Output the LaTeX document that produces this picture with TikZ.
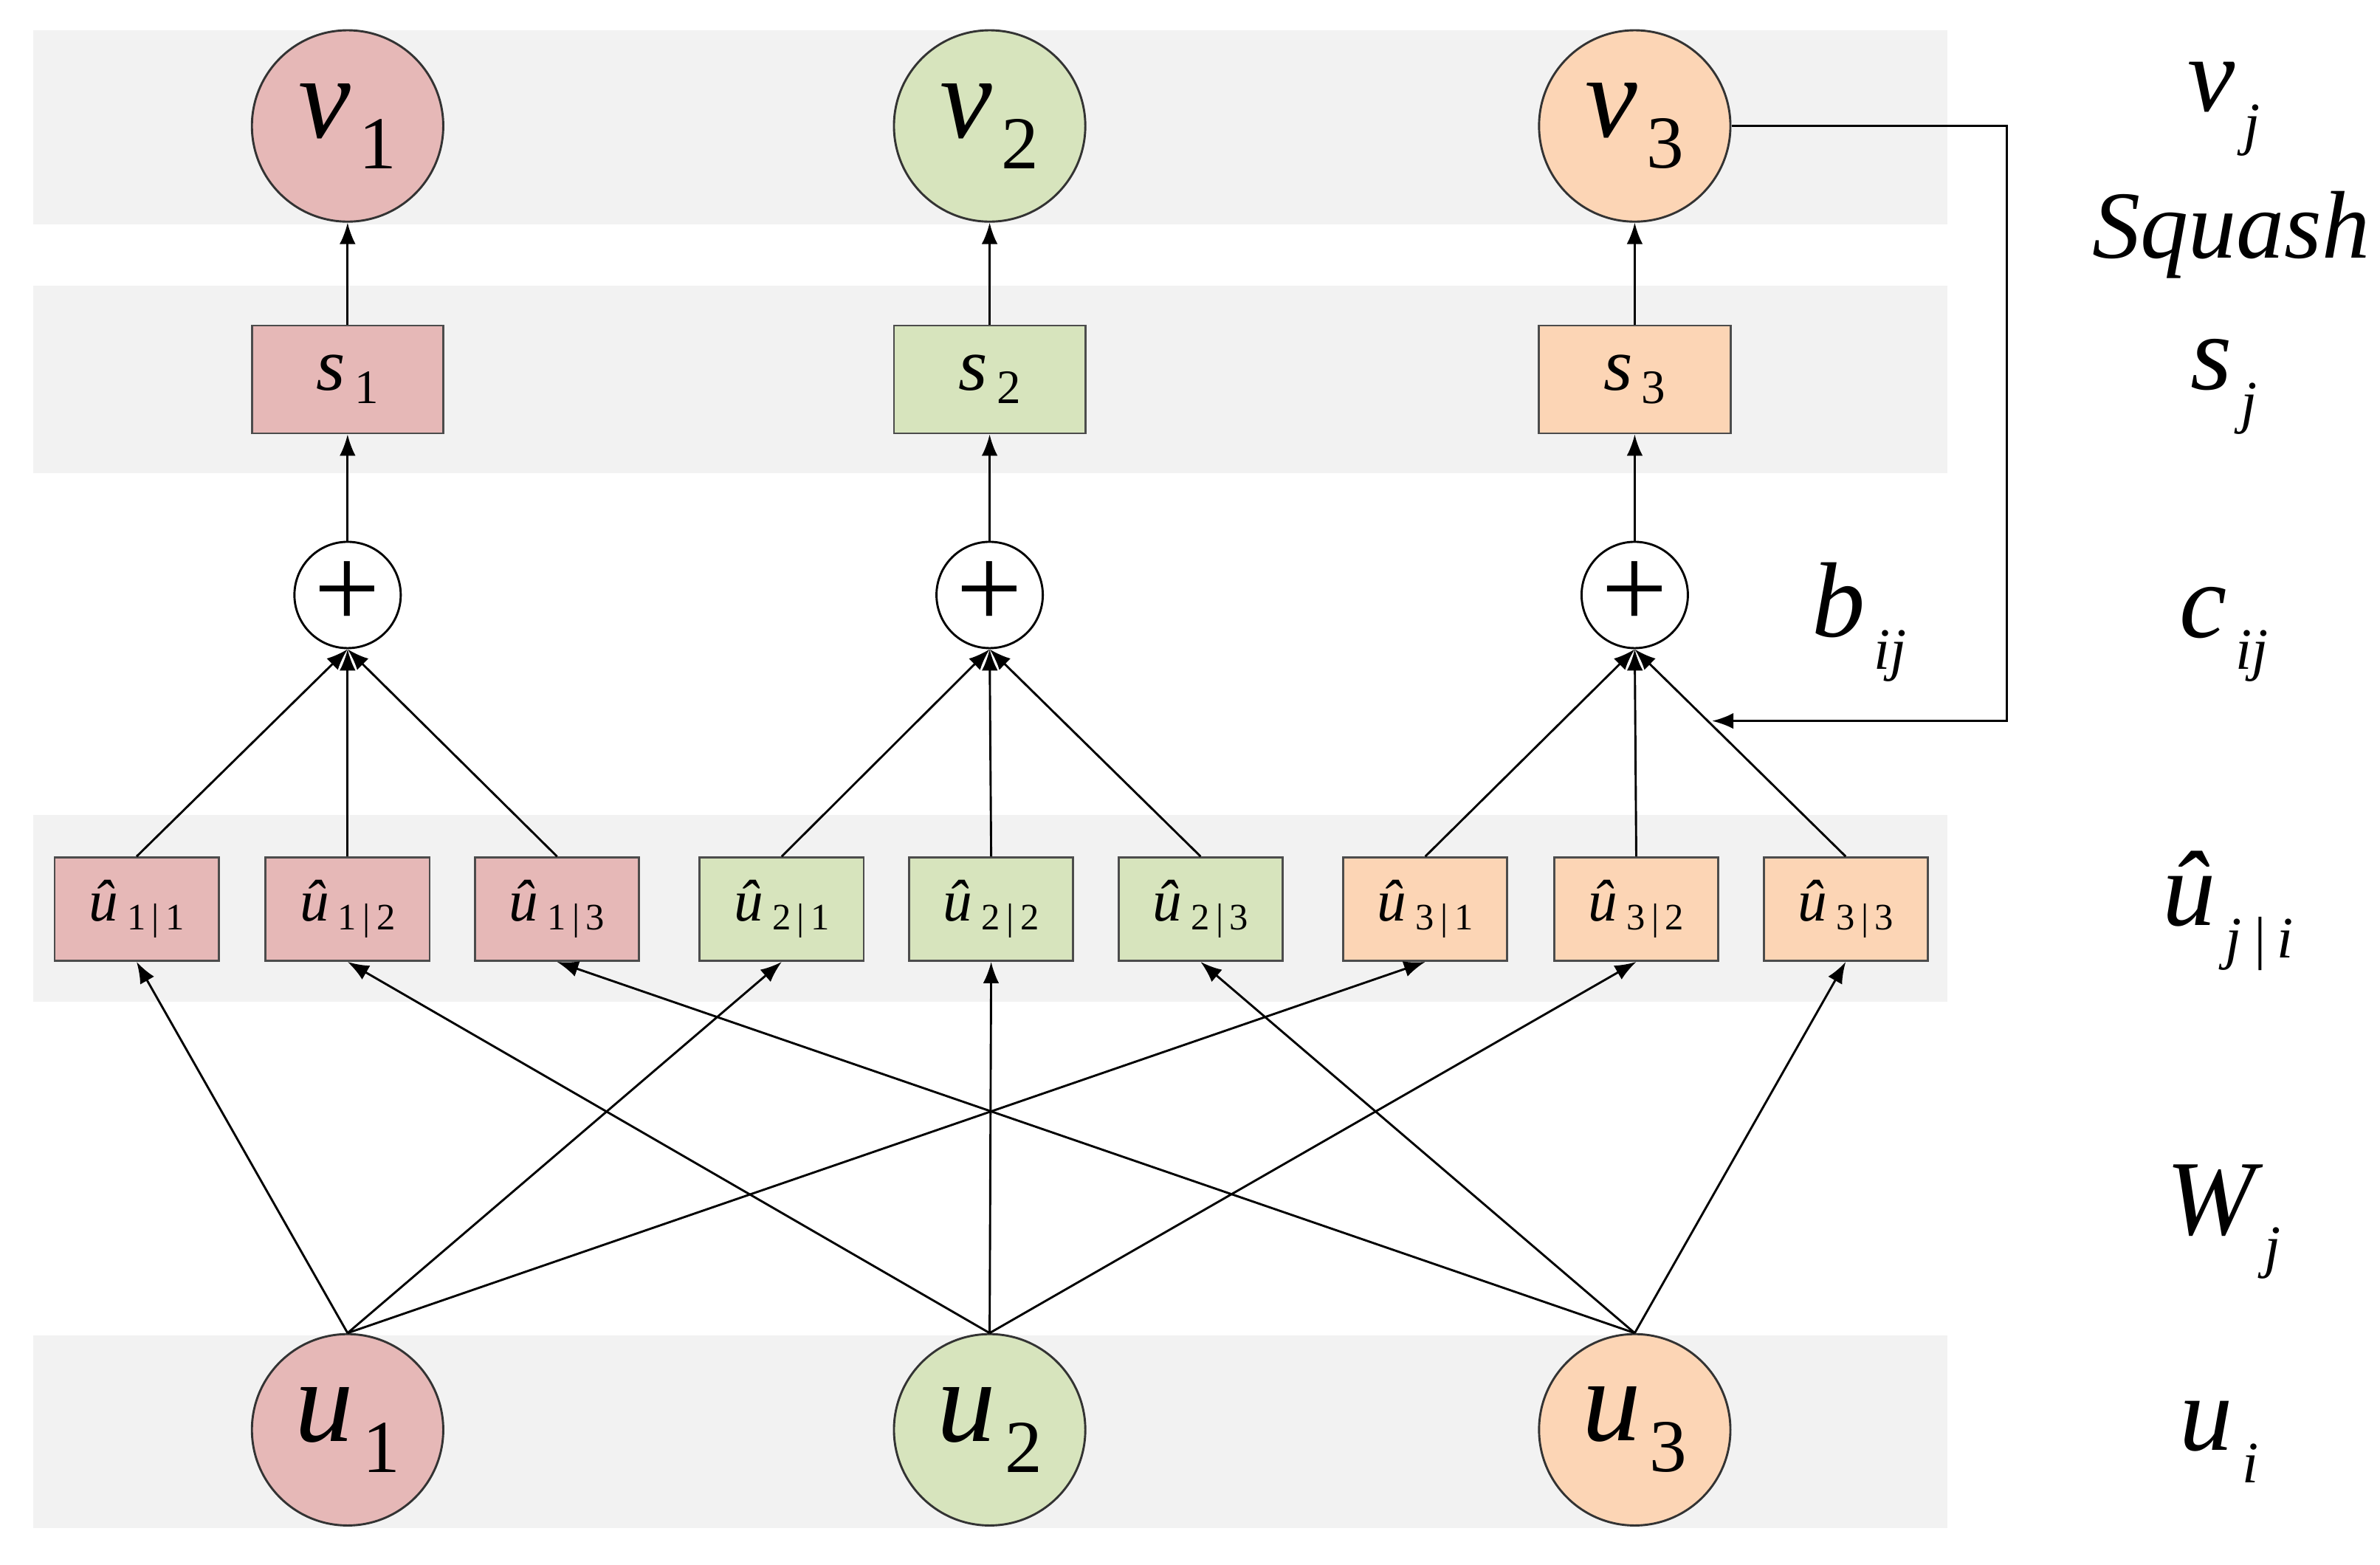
\documentclass[tikz,border=0pt]{standalone}
\usepackage{fontspec}
\setmainfont{Liberation Serif}
\usetikzlibrary{arrows.meta}
\definecolor{cr}{HTML}{E6B8B7}
\definecolor{cg}{HTML}{D7E4BD}
\definecolor{co}{HTML}{FCD5B5}
\definecolor{band}{HTML}{F2F2F2}
\newcommand{\bigsym}[2]{{\fontsize{22}{22}\selectfont\itshape #1}\,{\fontsize{14}{14}\selectfont #2}}
\newcommand{\uh}[2]{{\fontsize{11}{11}\selectfont\itshape \^u}\,{\fontsize{7}{7}\selectfont\raisebox{-0.5ex}{#1\,|\,#2}}}
\newcommand{\rl}[2]{{\fontsize{20}{20}\selectfont\itshape #1}\,{\fontsize{11}{11}\selectfont\itshape\raisebox{-1.2ex}{#2}}}
\begin{document}
\begin{tikzpicture}[x=0.01cm,y=-0.01cm,
  big/.style={circle,draw=black!80,minimum size=1.26cm,inner sep=0},
  sbox/.style={draw=black!70,minimum width=1.26cm,minimum height=0.71cm,inner sep=0},
  ubox/.style={draw=black!70,minimum width=1.08cm,minimum height=0.68cm,inner sep=0},
  plus/.style={circle,draw=black,fill=white,minimum size=0.70cm,inner sep=0},
  arr/.style={-{Latex[length=4pt,width=3pt]},line width=0.4pt}]
\useasboundingbox (0,0) rectangle (1568,1031);
\foreach \a/\b in {20/148,188/312,537/660,880/1007}
  \fill[band] (22,\a) rectangle (1283,\b);
\foreach \i/\x/\c in {1/229/cr,2/652/cg,3/1077/co}{
  \node[big,fill=\c] (v\i) at (\x,83) {\bigsym{v}{\raisebox{-0.9ex}{\i}}};
  \node[sbox,fill=\c] (s\i) at (\x,250) {{\fontsize{14}{14}\selectfont\itshape s}\,{\fontsize{9}{9}\selectfont\raisebox{-0.6ex}{\i}}};
  \node[plus] (p\i) at (\x,392) {\fontsize{22}{22}\selectfont +};
  \node[big,fill=\c] (u\i) at (\x,942) {\bigsym{u}{\raisebox{-0.9ex}{\i}}};
  \draw[arr] (s\i) -- (v\i);
  \draw[arr] (p\i) -- (s\i);
}
\foreach \j/\i/\x/\c in {1/1/90/cr,1/2/229/cr,1/3/367/cr,2/1/515/cg,2/2/653/cg,2/3/791/cg,3/1/939/co,3/2/1078/co,3/3/1216/co}{
  \node[ubox,fill=\c] (h\j\i) at (\x,599) {\uh{\j}{\i}};
  \draw[arr] (u\i.north) -- (h\j\i.south);
  \draw[arr] (h\j\i.north) -- (p\j.south);
}
\coordinate (c1) at (1322,83);
\coordinate (c2) at (1322,475);
\coordinate (c3) at (1128,475);
\draw[arr] (v3.east) -- (c1) -- (c2) -- (c3);
\node (b) at (1225,410) {\rl{b}{ij}};
\node (l1) at (1465,72) {\rl{v}{j}};
\node (l2) at (1470,155) {\fontsize{18}{18}\selectfont\itshape Squash};
\node (l3) at (1465,255) {\rl{s}{j}};
\node (l4) at (1465,418) {\rl{c}{ij}};
\node (l5) at (1468,600) {{\fontsize{20}{20}\selectfont\itshape \^u}\,{\fontsize{11}{11}\selectfont\itshape\raisebox{-1.2ex}{j\,|\,i}}};
\node (l6) at (1465,805) {\rl{W}{j}};
\node (l7) at (1462,950) {\rl{u}{i}};
\end{tikzpicture}
\end{document}
